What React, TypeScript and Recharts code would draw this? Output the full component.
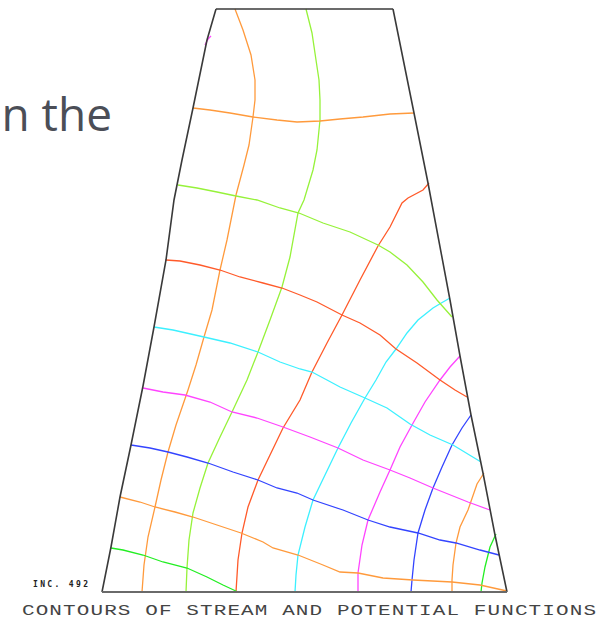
import React from "react";
import { ComposedChart, Line, XAxis, YAxis, Customized } from "recharts";

type Pt = [number, number];

// domain outline (plot units, y grows downward)
const edgeLeft: Pt[] = [[216, 9], [207, 40], [193, 108], [182, 160], [174, 200], [166, 260], [154, 327], [143, 386], [131, 445], [120, 497], [111, 547], [102, 592]];
const edgeTop: Pt[] = [[216, 9], [393, 9]];
const edgeRight: Pt[] = [[393, 9], [414, 113], [428, 183], [450, 300], [460, 356], [471, 415], [483, 473], [495, 535], [507, 592]];
const edgeBottom: Pt[] = [[102, 592], [507, 592]];

// stream function contours, left to right
const psi1: Pt[] = [[235, 9], [243, 30], [251, 55], [255, 80], [255, 100], [253, 117], [249, 145], [244, 165], [236, 195], [227, 240], [220, 270], [212, 310], [204, 337], [196, 365], [188, 390], [176, 425], [168, 452], [161, 480], [155, 507], [148, 537], [144, 565], [142, 592]];
const psi2: Pt[] = [[306, 9], [312, 33], [316, 60], [319, 80], [320, 100], [320, 120], [317, 150], [313, 170], [304, 200], [298, 213], [290, 257], [282, 287], [270, 320], [258, 352], [247, 380], [232, 412], [220, 437], [208, 463], [200, 488], [193, 513], [189, 540], [187, 568], [186, 592]];
const psi3: Pt[] = [[429, 183], [423, 190], [408, 198], [402, 203], [390, 227], [378, 246], [360, 280], [342, 315], [327, 343], [312, 372], [300, 400], [283, 428], [270, 455], [258, 480], [248, 507], [242, 533], [238, 560], [236, 592]];
const psi4: Pt[] = [[450, 298], [443, 302], [433, 308], [418, 320], [407, 333], [396, 349], [386, 362], [376, 380], [365, 398], [351, 423], [338, 448], [325, 475], [313, 500], [305, 527], [298, 555], [296, 575], [295, 592]];
const psi5: Pt[] = [[460, 356], [450, 367], [440, 380], [425, 402], [412, 425], [400, 447], [390, 470], [380, 492], [368, 520], [362, 545], [358, 573], [358, 592]];
const psi6: Pt[] = [[471, 415], [462, 428], [452, 445], [442, 467], [433, 488], [425, 510], [418, 533], [414, 560], [412, 580], [411, 592]];
const psi7: Pt[] = [[484, 473], [477, 484], [468, 510], [460, 527], [456, 543], [453, 565], [452, 580], [452, 592]];
const psi8: Pt[] = [[496, 534], [490, 547], [485, 567], [482, 583], [481, 592]];

// potential function contours, top to bottom
const phi0: Pt[] = [[205, 45], [207, 41], [209, 38], [211, 36]];
const phi1: Pt[] = [[193, 108], [210, 110], [230, 113], [253, 117], [277, 120], [297, 122], [320, 121], [340, 119], [363, 117], [390, 114], [414, 113]];
const phi2: Pt[] = [[178, 185], [197, 188], [217, 192], [236, 196], [257, 200], [280, 208], [299, 213], [323, 223], [350, 232], [378, 245], [390, 252], [407, 265], [423, 282], [437, 300], [452, 317]];
const phi3: Pt[] = [[166, 260], [180, 261], [200, 265], [220, 270], [240, 277], [263, 283], [282, 288], [300, 295], [317, 302], [342, 315], [360, 323], [380, 335], [396, 349], [417, 363], [440, 380], [455, 390], [467, 397]];
const phi4: Pt[] = [[154, 327], [173, 330], [204, 337], [230, 343], [258, 352], [280, 362], [300, 369], [312, 372], [327, 380], [340, 387], [365, 398], [387, 408], [410, 424], [430, 435], [453, 445], [481, 462]];
const phi5: Pt[] = [[143, 388], [163, 392], [185, 395], [210, 402], [232, 412], [257, 418], [283, 427], [310, 437], [338, 448], [363, 460], [390, 470], [410, 478], [433, 488], [468, 502], [490, 510]];
const phi6: Pt[] = [[131, 445], [150, 448], [168, 452], [187, 457], [208, 463], [233, 472], [258, 480], [277, 488], [297, 493], [313, 500], [343, 510], [368, 520], [390, 527], [418, 533], [440, 540], [456, 543], [480, 550], [499, 555]];
const phi7: Pt[] = [[120, 497], [140, 502], [155, 507], [175, 512], [193, 517], [217, 525], [241, 533], [263, 542], [273, 548], [298, 555], [323, 565], [340, 572], [358, 573], [383, 578], [413, 580], [452, 582], [480, 585], [507, 591]];
const phi8: Pt[] = [[111, 548], [123, 550], [143, 555], [163, 562], [187, 568], [207, 577], [223, 585], [238, 592]];

const ORANGE = "#ff9a3c";
const LIME = "#96f23a";
const RED = "#ff5a2a";
const CYAN = "#3cf0ff";
const MAGENTA = "#ff44ff";
const BLUE = "#3344ff";
const GREEN = "#22ee22";

const contours: { key: string; pts: Pt[]; color: string }[] = [
  { key: "psi1", pts: psi1, color: ORANGE },
  { key: "psi2", pts: psi2, color: LIME },
  { key: "psi3", pts: psi3, color: RED },
  { key: "psi4", pts: psi4, color: CYAN },
  { key: "psi5", pts: psi5, color: MAGENTA },
  { key: "psi6", pts: psi6, color: BLUE },
  { key: "psi7", pts: psi7, color: ORANGE },
  { key: "psi8", pts: psi8, color: GREEN },
  { key: "phi0", pts: phi0, color: MAGENTA },
  { key: "phi1", pts: phi1, color: ORANGE },
  { key: "phi2", pts: phi2, color: LIME },
  { key: "phi3", pts: phi3, color: RED },
  { key: "phi4", pts: phi4, color: CYAN },
  { key: "phi5", pts: phi5, color: MAGENTA },
  { key: "phi6", pts: phi6, color: BLUE },
  { key: "phi7", pts: phi7, color: ORANGE },
  { key: "phi8", pts: phi8, color: GREEN },
];

const outline: { key: string; pts: Pt[]; color: string; w: number }[] = [
  { key: "left", pts: edgeLeft, color: "#3a3a3a", w: 1.6 },
  { key: "top", pts: edgeTop, color: "#3a3a3a", w: 1.6 },
  { key: "right", pts: edgeRight, color: "#3a3a3a", w: 1.6 },
  { key: "bottom", pts: edgeBottom, color: "#6a6a6a", w: 2 },
];

const toRows = (pts: Pt[]) => pts.map(([x, y]) => ({ x, y }));

// plotter-style caption is wide, so the mono font gets stretched horizontally
const Captions = () => (
  <g>
    <text x={112} y={131} textAnchor="end" fontFamily="'Open Sans', 'Noto Sans', sans-serif" fontSize={46} fill="#4b4e57">
      n the
    </text>
    <text x={33} y={587} fontFamily="'DejaVu Sans Mono', monospace" fontWeight="bold" fontSize={8} fill="#222" textLength={55} lengthAdjust="spacing">
      INC. 492
    </text>
    <g transform="translate(22,615) scale(1.4,1)">
      <text x={0} y={0} fontFamily="'Liberation Mono', monospace" fontSize={15} fill="#444" textLength={574 / 1.4} lengthAdjust="spacing">
        CONTOURS OF STREAM AND POTENTIAL FUNCTIONS
      </text>
    </g>
  </g>
);

export default function App() {
  return (
    <div style={{ position: "absolute", left: 0, top: 0, width: 607, height: 620, background: "#fff" }}>
      <ComposedChart width={607} height={620} margin={{ top: 0, right: 0, bottom: 0, left: 0 }}>
        <XAxis type="number" dataKey="x" domain={[0, 607]} hide allowDataOverflow />
        <YAxis type="number" dataKey="y" domain={[0, 620]} reversed hide allowDataOverflow />
        {contours.map((c) => (
          <Line
            key={c.key}
            data={toRows(c.pts)}
            dataKey="y"
            type="linear"
            stroke={c.color}
            strokeWidth={1.3}
            dot={false}
            activeDot={false}
            isAnimationActive={false}
          />
        ))}
        {outline.map((o) => (
          <Line
            key={o.key}
            data={toRows(o.pts)}
            dataKey="y"
            type="linear"
            stroke={o.color}
            strokeWidth={o.w}
            dot={false}
            activeDot={false}
            isAnimationActive={false}
          />
        ))}
        <Customized component={Captions} />
      </ComposedChart>
    </div>
  );
}
